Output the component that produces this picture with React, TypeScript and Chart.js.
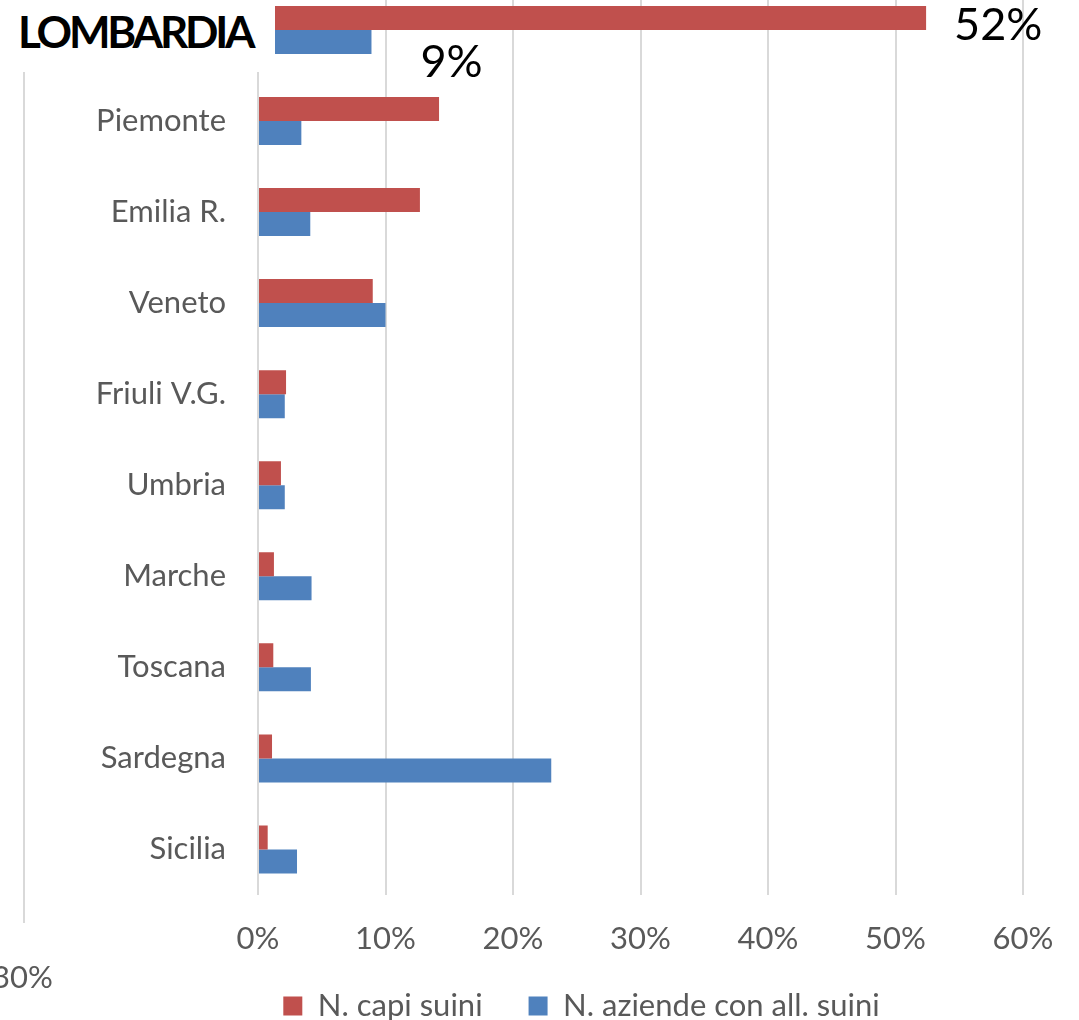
import React, { useEffect, useRef } from "react";
import { Chart, registerables } from "chart.js";

Chart.register(...registerables);

const categories = [
  "LOMBARDIA",
  "Piemonte",
  "Emilia R.",
  "Veneto",
  "Friuli V.G.",
  "Umbria",
  "Marche",
  "Toscana",
  "Sardegna",
  "Sicilia",
];
const capiSuini = [52.4, 14.2, 12.7, 9.0, 2.2, 1.8, 1.25, 1.2, 1.1, 0.76];
const aziendeSuini = [8.9, 3.4, 4.1, 10.0, 2.1, 2.1, 4.2, 4.15, 23.0, 3.06];
const seriesNames = ["N. capi suini", "N. aziende con all. suini"];
const xTicksMax = 60;
const xTickStep = 10;
const highlightedLabel = "LOMBARDIA";
const backgroundTickLabel = "30%";

const FONT = "Lato, 'Open Sans', sans-serif";
const GRID = "#d9d9d9";
const TEXT = "#595959";

const leadLabels = {
  id: "leadLabels",
  afterDatasetsDraw(chart: any) {
    const ctx = chart.ctx;
    ctx.save();
    ctx.font = `45px ${FONT}`;
    ctx.fillStyle = "#000";
    ctx.textAlign = "left";
    ctx.textBaseline = "alphabetic";
    const offs = [
      [28, 22],
      [49, 35],
    ];
    chart.data.datasets.forEach((ds: any, di: number) => {
      const meta = chart.getDatasetMeta(di);
      const el = meta.data[0];
      if (!el) return;
      const v = ds.data[0];
      ctx.fillText(`${Math.round(v)}%`, el.x + offs[di][0], el.y + offs[di][1]);
    });
    ctx.restore();
  },
};

const legendShift = {
  id: "legendShift",
  afterLayout(chart: any) {
    const lg = chart.legend;
    if (!lg) return;
    lg.left += 70;
    lg.right += 70;
    lg.top -= 29.5;
    lg.bottom -= 29.5;
  },
};

export default function App() {
  const ref = useRef<HTMLCanvasElement | null>(null);
  useEffect(() => {
    if (!ref.current) return;
    const chart = new Chart(ref.current, {
      type: "bar",
      data: {
        labels: categories,
        datasets: [
          {
            label: seriesNames[0],
            data: capiSuini,
            backgroundColor: "#C0504D",
            categoryPercentage: 0.527,
            barPercentage: 1,
          },
          {
            label: seriesNames[1],
            data: aziendeSuini,
            backgroundColor: "#4F81BD",
            categoryPercentage: 0.527,
            barPercentage: 1,
          },
        ],
      },
      options: {
        indexAxis: "y",
        animation: false,
        responsive: false,
        maintainAspectRatio: false,
        layout: { padding: { left: 0, right: 56, top: 14.4, bottom: 1 } },
        scales: {
          x: {
            min: 0,
            max: xTicksMax,
            grid: { color: GRID, lineWidth: 2, drawTicks: false },
            border: { display: false },
            ticks: {
              stepSize: xTickStep,
              padding: 25,
              color: TEXT,
              font: { family: FONT, size: 31 },
              callback: (v: any) => `${v}%`,
            },
            afterFit: (s: any) => {
              s.height = 79;
            },
          },
          y: {
            grid: { display: false, drawTicks: false },
            border: { display: false },
            ticks: {
              padding: 32,
              color: TEXT,
              font: { family: FONT, size: 31 },
              callback: function (this: any, v: any) {
                const l = this.getLabelForValue(v);
                return l === highlightedLabel ? "" : l;
              },
            },
            afterFit: (s: any) => {
              s.width = 258;
              s.paddingTop = 0;
              s.paddingBottom = 0;
            },
          },
        },
        plugins: {
          legend: {
            position: "bottom",
            labels: {
              boxWidth: 19,
              boxHeight: 19,
              padding: 46,
              color: TEXT,
              font: { family: FONT, size: 31 },
            },
          },
          tooltip: { enabled: false },
        },
      },
      plugins: [leadLabels, legendShift],
    });
    return () => chart.destroy();
  }, []);

  return (
    <div
      style={{
        position: "absolute",
        left: 0,
        top: 0,
        width: 1079,
        height: 1020,
        overflow: "hidden",
        background: "#fff",
      }}
    >
      <div style={{ position: "absolute", left: 0, top: -30, width: 1079, height: 1092 }}>
        <canvas ref={ref} width={1079} height={1092} style={{ width: 1079, height: 1092 }} />
      </div>
      <div
        style={{
          position: "absolute",
          left: 23,
          top: 72,
          width: 2,
          height: 851,
          background: GRID,
        }}
      />
      <div
        style={{
          position: "absolute",
          left: -8,
          top: 958,
          fontFamily: FONT,
          fontSize: 31,
          color: TEXT,
          lineHeight: "37px",
        }}
      >
        {backgroundTickLabel}
      </div>
      <div
        style={{
          position: "absolute",
          left: 0,
          top: 0,
          width: 275,
          height: 72,
          background: "#fff",
        }}
      >
        <div
          style={{
            position: "absolute",
            left: 18,
            top: 5,
            fontFamily: FONT,
            fontWeight: 700,
            fontSize: 44,
            letterSpacing: "-3.2px",
            lineHeight: "53px",
            color: "#000",
          }}
        >
          {highlightedLabel}
        </div>
      </div>
    </div>
  );
}
